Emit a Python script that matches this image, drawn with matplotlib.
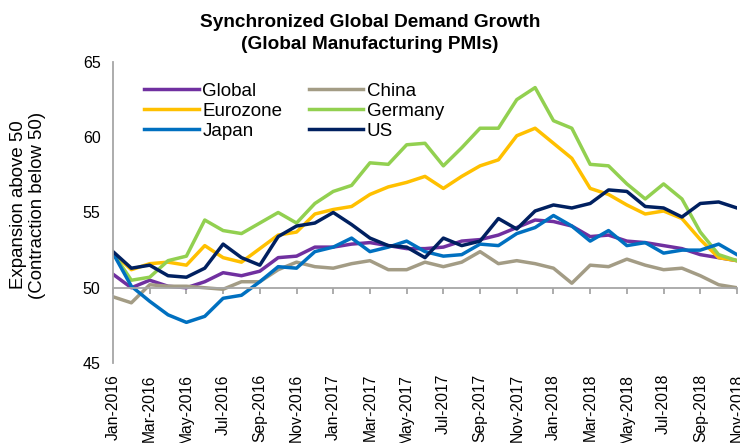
import numpy as np
import matplotlib
matplotlib.use("Agg")
import matplotlib.pyplot as plt

plt.rcParams['font.family'] = ['Liberation Sans', 'DejaVu Sans']

months = ["Jan-2016", "Feb-2016", "Mar-2016", "Apr-2016", "May-2016", "Jun-2016",
          "Jul-2016", "Aug-2016", "Sep-2016", "Oct-2016", "Nov-2016", "Dec-2016",
          "Jan-2017", "Feb-2017", "Mar-2017", "Apr-2017", "May-2017", "Jun-2017",
          "Jul-2017", "Aug-2017", "Sep-2017", "Oct-2017", "Nov-2017", "Dec-2017",
          "Jan-2018", "Feb-2018", "Mar-2018", "Apr-2018", "May-2018", "Jun-2018",
          "Jul-2018", "Aug-2018", "Sep-2018", "Oct-2018", "Nov-2018"]

global_pmi = [50.9, 50.0, 50.5, 50.1, 50.0, 50.4, 51.0, 50.8, 51.1, 52.0, 52.1, 52.7,
              52.7, 52.9, 53.0, 52.8, 52.6, 52.6, 52.7, 53.1, 53.2, 53.5, 54.0, 54.5,
              54.4, 54.1, 53.4, 53.5, 53.1, 53.0, 52.8, 52.6, 52.2, 52.0, 51.8]
china = [49.4, 49.0, 50.2, 50.1, 50.1, 50.0, 49.9, 50.4, 50.4, 51.2, 51.7, 51.4,
         51.3, 51.6, 51.8, 51.2, 51.2, 51.7, 51.4, 51.7, 52.4, 51.6, 51.8, 51.6,
         51.3, 50.3, 51.5, 51.4, 51.9, 51.5, 51.2, 51.3, 50.8, 50.2, 50.0]
eurozone = [52.3, 51.2, 51.6, 51.7, 51.5, 52.8, 52.0, 51.7, 52.6, 53.5, 53.7, 54.9,
            55.2, 55.4, 56.2, 56.7, 57.0, 57.4, 56.6, 57.4, 58.1, 58.5, 60.1, 60.6,
            59.6, 58.6, 56.6, 56.2, 55.5, 54.9, 55.1, 54.6, 53.2, 52.0, 51.8]
germany = [52.3, 50.5, 50.7, 51.8, 52.1, 54.5, 53.8, 53.6, 54.3, 55.0, 54.3, 55.6,
           56.4, 56.8, 58.3, 58.2, 59.5, 59.6, 58.1, 59.3, 60.6, 60.6, 62.5, 63.3,
           61.1, 60.6, 58.2, 58.1, 56.9, 55.9, 56.9, 55.9, 53.7, 52.2, 51.8]
japan = [52.3, 50.1, 49.1, 48.2, 47.7, 48.1, 49.3, 49.5, 50.4, 51.4, 51.3, 52.4,
         52.7, 53.3, 52.4, 52.7, 53.1, 52.4, 52.1, 52.2, 52.9, 52.8, 53.6, 54.0,
         54.8, 54.1, 53.1, 53.8, 52.8, 53.0, 52.3, 52.5, 52.5, 52.9, 52.2]
us = [52.4, 51.3, 51.5, 50.8, 50.7, 51.3, 52.9, 52.0, 51.5, 53.4, 54.1, 54.3,
      55.0, 54.2, 53.3, 52.8, 52.7, 52.0, 53.3, 52.8, 53.1, 54.6, 53.9, 55.1,
      55.5, 55.3, 55.6, 56.5, 56.4, 55.4, 55.3, 54.7, 55.6, 55.7, 55.3]

series = [("Global", global_pmi, "#7030A0"),
          ("China", china, "#A39C85"),
          ("Eurozone", eurozone, "#FFC000"),
          ("Germany", germany, "#92D050"),
          ("Japan", japan, "#0070C0"),
          ("US", us, "#002060")]

yticks = [45, 50, 55, 60, 65]

fig = plt.figure(figsize=(7.4, 4.43), dpi=100)
ax = fig.add_axes([113/740, 1-363/443, 624/740, 301/443])

x = np.arange(len(months))
handles = {}
for name, vals, col in series:
    ln, = ax.plot(x, vals, color=col, lw=2.5, label=name, solid_joinstyle='round')
    handles[name] = ln

ax.set_xlim(0, len(months) - 1)
ax.set_ylim(45, 65)
ax.set_yticks(yticks)
ax.tick_params(axis='y', length=0, pad=9, labelsize=11.5)

grey = "#A6A6A6"
for s in ['top', 'right']:
    ax.spines[s].set_visible(False)
ax.spines['left'].set_color(grey)
ax.spines['left'].set_linewidth(1.3)
ax.spines['bottom'].set_position(('data', 50))
ax.spines['bottom'].set_color(grey)
ax.spines['bottom'].set_linewidth(1.3)
ax.set_xticks(x[::2])
ax.tick_params(axis='x', direction='out', length=4, width=1.3, color=grey,
               labelbottom=False)

sec = ax.secondary_xaxis('bottom')
sec.set_xticks(x[::2], labels=months[::2])
sec.tick_params(axis='x', length=0, pad=8, labelsize=11.3, labelrotation=90)
sec.spines['bottom'].set_visible(False)

order = ["Global", "Eurozone", "Japan", "China", "Germany", "US"]
ax.legend([handles[n] for n in order], order, ncol=2, frameon=False,
          loc='upper left', bbox_to_anchor=(0.05, 0.932), borderpad=0,
          borderaxespad=0, fontsize=13.5, handlelength=2.9, handletextpad=0.2,
          columnspacing=1.4, labelspacing=0.16)

fig.text(370/740, 1-14/443, "Synchronized Global Demand Growth\n(Global Manufacturing PMIs)",
         ha='center', va='top', fontsize=13.7, fontweight='bold', linespacing=1.4)
fig.text(28/740, 1-205/443, "Expansion above 50\n(Contraction below 50)",
         rotation=90, ha='center', va='center', multialignment='center',
         fontsize=13.4, linespacing=1.15)

fig.savefig("out.png", dpi=100)
